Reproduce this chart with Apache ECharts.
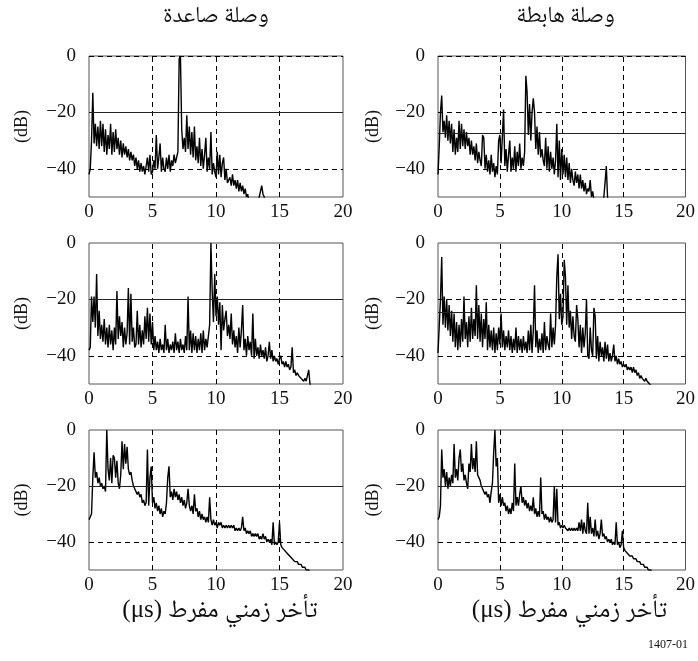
<!DOCTYPE html>
<html><head><meta charset="utf-8">
<script src="https://cdn.jsdelivr.net/npm/echarts@6/dist/echarts.min.js"></script>
<style>html,body{margin:0;padding:0;background:#fff}#c{width:698px;height:661px}</style>
</head><body><div id="c"></div>
<script>
// Excess delay sampling step (µs)
const delayStep = 0.1;
const xTicks = [0, 5, 10, 15, 20];
const yTicks = [0, -20, -40];
const columnTitles = ['وصلة صاعدة', 'وصلة هابطة'];
const xAxisTitle = '(μs) تأخر زمني مفرط';
const yAxisTitle = '(dB)';
const figureId = '1407-01';

// Uplink, row 1
const uplink1 = [-42,-40,-30,-13,-31,-24,-32,-25,-33,-23,
 -32,-24,-34,-26,-35,-28,-33,-24,-35,-27,
 -34,-26,-33,-29,-35,-30,-36,-31,-35,-32,
 -36,-33,-37,-34,-37,-35,-39,-36,-40,-37,
 -41,-38,-41,-39,-42,-39,-36,-41,-35,-42,
 -41,-37,-40,-28,-40,-36,-31,-41,-36,-40,
 -41,-36,-40,-35,-41,-37,-39,-35,-38,-36,
 -34,-1,0,-26,-33,-29,-34,-21,-33,-25,
 -35,-27,-36,-25,-37,-32,-38,-29,-39,-33,
 -40,-35,-29,-41,-36,-40,-27,-42,-38,-41,
 -43,-34,-42,-35,-43,-38,-36,-44,-40,-45,
 -45,-43,-46,-42,-46,-44,-47,-44,-48,-45,
 -48,-46,-49,-47,-50,-49,-52,-53,-53,-53,
 -53,-53,-53,-53,-50,-48,-46,-49,-50,-53];
// Downlink, row 1
const downlink1 = [-42,-32,-20,-14,-27,-23,-29,-21,-30,-23,
 -31,-24,-34,-26,-35,-29,-34,-23,-33,-24,
 -32,-26,-33,-27,-32,-29,-35,-30,-35,-32,
 -37,-31,-38,-34,-37,-39,-28,-29,-40,-35,
 -41,-37,-42,-35,-41,-38,-43,-39,-42,-30,
 -28,-38,-38,-19,-39,-33,-41,-35,-30,-41,
 -36,-40,-32,-41,-34,-39,-31,-40,-36,-39,
 -34,-7,-13,-28,-17,-30,-20,-15,-20,-33,
 -25,-35,-27,-36,-33,-37,-39,-29,-40,-32,
 -41,-34,-40,-36,-42,-37,-24,-43,-30,-44,
 -33,-42,-35,-43,-36,-44,-38,-45,-40,-44,
 -46,-41,-45,-42,-47,-42,-47,-44,-48,-45,
 -49,-47,-48,-44,-50,-48,-51,-53,-53,-53,
 -53,-53,-53,-53,-50,-45,-39,-50,-53,-53,
 -53];
// Uplink, row 2
const uplink2 = [-38,-37,-19,-28,-19,-30,-11,-33,-24,-34,
 -29,-35,-27,-36,-30,-37,-29,-36,-31,-38,
 -30,-36,-17,-34,-26,-33,-28,-37,-30,-36,
 -32,-16,-36,-18,-35,-30,-37,-36,-24,-36,
 -29,-37,-31,-36,-26,-34,-23,-35,-25,-36,
 -28,-38,-33,-38,-35,-39,-34,-38,-36,-39,
 -29,-38,-34,-39,-36,-38,-35,-39,-32,-38,
 -35,-39,-34,-38,-36,-39,-33,-38,-19,-38,
 -31,-39,-32,-38,-33,-39,-34,-38,-32,-39,
 -31,-38,-34,-37,-33,-29,0,-17,-28,-11,
 -26,-19,-29,-21,-38,-22,-31,-27,-24,-33,
 -29,-34,-25,-36,-31,-37,-33,-39,-30,-37,
 -31,-22,-38,-34,-40,-33,-38,-35,-40,-25,
 -41,-34,-40,-37,-41,-36,-40,-38,-41,-37,
 -42,-40,-35,-41,-38,-42,-40,-42,-41,-43,
 -41,-40,-43,-42,-44,-42,-44,-43,-45,-44,
 -37,-46,-45,-47,-46,-47,-47,-48,-48,-49,
 -48,-49,-49,-45,-50,-51];
// Downlink, row 2
const downlink2 = [-39,-39,-20,-5,-29,-19,-30,-20,-31,-22,
 -33,-24,-35,-25,-37,-28,-38,-29,-37,-27,
 -35,-19,-34,-28,-37,-26,-35,-23,-34,-27,
 -33,-15,-34,-22,-35,-25,-37,-27,-34,-21,
 -38,-29,-37,-31,-38,-30,-39,-32,-38,-30,
 -36,-25,-37,-31,-38,-33,-37,-31,-38,-33,
 -39,-34,-38,-30,-39,-33,-38,-34,-39,-33,
 -38,-35,-39,-31,-38,-29,-39,-31,-15,-37,
 -31,-39,-34,-38,-32,-39,-28,-38,-33,-36,
 -38,-25,-37,-30,-36,-29,-12,-4,-27,-18,
 -29,-26,-6,-12,-29,-15,-30,-24,-34,-26,
 -33,-35,-22,-27,-37,-29,-39,-30,-37,-32,
 -20,-40,-41,-30,-38,-40,-23,-26,-41,-33,
 -42,-35,-40,-37,-42,-35,-41,-36,-42,-39,
 -42,-40,-36,-42,-40,-43,-41,-43,-42,-44,
 -43,-44,-43,-45,-44,-45,-44,-46,-44,-46,
 -45,-47,-46,-48,-47,-48,-48,-49,-48,-49,
 -49,-50,-50,-51,-51,-52];
// Uplink, row 3
const uplink3 = [-32,-31,-30,-17,-8,-17,-15,-19,-17,-20,
 -19,-21,-20,-22,0,-14,-18,-10,-19,-9,
 -10,-17,-11,-19,-21,-16,-4,-14,-5,-12,
 -6,-14,-16,-15,-18,-20,-21,-22,-23,-22,
 -24,-23,-26,-25,-27,-26,-7,-27,-17,-13,
 -26,-24,-28,-26,-29,-27,-30,-28,-31,-29,
 -30,-26,-17,-13,-24,-22,-25,-21,-24,-22,
 -25,-23,-26,-24,-27,-25,-28,-26,-21,-27,
 -29,-27,-30,-23,-29,-28,-31,-29,-32,-30,
 -32,-31,-33,-31,-33,-24,-32,-34,-32,-34,
 -33,-35,-33,-34,-33,-35,-34,-35,-34,-35,
 -34,-35,-34,-35,-34,-36,-35,-36,-35,-36,
 -35,-31,-36,-35,-37,-36,-37,-36,-38,-37,
 -38,-37,-38,-37,-39,-38,-39,-37,-39,-38,
 -40,-39,-40,-39,-41,-33,-41,-40,-41,-40,
 -33,-41,-42,-42,-43,-43,-44,-44,-45,-45,
 -46,-46,-47,-47,-47,-48,-48,-48,-49,-49,
 -49,-50,-50,-50,-51,-52];
// Downlink, row 3
const downlink3 = [-32,-31,-27,-7,-17,-14,-20,-15,-21,-17,
 -20,-16,-19,-5,-17,-14,-18,-10,-7,-15,
 -12,-18,-16,-19,-21,-12,-15,-5,-14,-10,
 -15,-4,-16,-17,-18,-20,-21,-22,-23,-22,
 -24,-23,-26,-22,-19,-8,0,-13,-10,-26,
 -23,-27,-24,-27,-26,-29,-27,-30,-28,-30,
 -26,-29,-12,-27,-24,-27,-23,-20,-26,-24,
 -27,-25,-28,-26,-29,-27,-29,-24,-30,-28,
 -31,-29,-31,-17,-30,-29,-32,-30,-32,-31,
 -33,-31,-33,-32,-20,-33,-21,-34,-33,-35,
 -34,-35,-34,-35,-35,-36,-35,-36,-35,-36,
 -35,-36,-35,-36,-33,-36,-32,-37,-33,-36,
 -37,-26,-37,-31,-37,-35,-38,-32,-38,-36,
 -39,-37,-32,-38,-37,-39,-38,-40,-39,-40,
 -39,-41,-40,-41,-33,-41,-40,-42,-41,-36,
 -42,-43,-43,-44,-44,-45,-45,-45,-46,-46,
 -46,-47,-47,-47,-48,-48,-48,-49,-49,-49,
 -50,-50,-50,-51];

// Reference levels per panel (solid) and dashed grid levels
const thresholds = [-20, -27.3, -20, -24.4, -20, -20];
const dashedLevels = [[0, -40], [0, -20, -40], [-40], [-20, -40], [-40], [-40]];
const dashedDelays = [5, 10, 15];

const panelSeries = [uplink1, downlink1, uplink2, downlink2, uplink3, downlink3];

// Layout (pixels)
const colLeft = [89, 438];
const colWidth = [254, 255];
const rowTop = [56, 243, 430];
const rowHeight = [141, 141, 140];

const serif = "'Liberation Serif','Times New Roman',serif";
const arabicFont = "'Noto Naskh Arabic','Noto Sans Arabic','DejaVu Sans','Liberation Serif',sans-serif";

const grids = [], xAxes = [], yAxes = [], series = [];
panelSeries.forEach((vals, p) => {
  const r = Math.floor(p / 2), c = p % 2;
  grids.push({left: colLeft[c], top: rowTop[r], width: colWidth[c], height: rowHeight[r],
    show: true, borderColor: '#555', borderWidth: 1, backgroundColor: 'transparent'});
  xAxes.push({type: 'value', gridIndex: p, min: 0, max: 20, interval: 5,
    axisLine: {show: false}, axisTick: {show: false}, splitLine: {show: false},
    axisLabel: {color: '#111', fontFamily: serif, fontSize: 19, margin: 6}});
  yAxes.push({type: 'value', gridIndex: p, min: -50, max: 0, interval: 10,
    axisLine: {show: false}, axisTick: {show: false}, splitLine: {show: false},
    name: yAxisTitle, nameLocation: 'middle', nameRotate: 90, nameGap: c === 0 ? 58 : 56,
    nameTextStyle: {color: '#111', fontFamily: serif, fontSize: 18},
    axisLabel: {color: '#111', fontFamily: serif, fontSize: 19, margin: 13,
      formatter: v => yTicks.includes(v) ? (v < 0 ? '\u2212' + (-v) : String(v)) : ''}});
  const ml = [];
  dashedDelays.forEach(d => ml.push({xAxis: d, lineStyle: {type: [5, 4], color: '#000', width: 1}}));
  dashedLevels[p].forEach(l => ml.push({yAxis: l, lineStyle: {type: [5, 4], color: '#000', width: 1}}));
  ml.push({yAxis: thresholds[p], lineStyle: {type: 'solid', color: '#222', width: 1}});
  series.push({type: 'line', xAxisIndex: p, yAxisIndex: p,
    data: vals.map((v, i) => [+(i * delayStep).toFixed(1), v]),
    showSymbol: false, symbol: 'none', clip: true, silent: true,
    lineStyle: {color: '#000', width: 1.4},
    markLine: {symbol: 'none', silent: true, label: {show: false}, animation: false, data: ml}});
});

const graphics = [];
columnTitles.forEach((t, c) => {
  graphics.push({type: 'text', x: colLeft[c] + colWidth[c] / 2, y: 19,
    style: {text: t, font: '23px ' + arabicFont, fill: '#111',
      align: 'center', verticalAlign: 'middle', textAlign: 'center', textVerticalAlign: 'middle'}});
  graphics.push({type: 'text', x: colLeft[c] + colWidth[c] / 2 + 4, y: 610,
    style: {text: xAxisTitle, font: '25px ' + "'Liberation Serif'," + arabicFont, fill: '#111',
      align: 'center', verticalAlign: 'middle', textAlign: 'center', textVerticalAlign: 'middle'}});
});
graphics.push({type: 'text', x: 668, y: 645,
  style: {text: figureId, font: '12px ' + serif, fill: '#111',
    align: 'center', verticalAlign: 'middle', textAlign: 'center', textVerticalAlign: 'middle'}});

const chart = echarts.init(document.getElementById('c'), null, {renderer: 'canvas'});
chart.setOption({
  animation: false,
  backgroundColor: '#fff',
  grid: grids, xAxis: xAxes, yAxis: yAxes, series: series,
  graphic: graphics
});
</script></body></html>
